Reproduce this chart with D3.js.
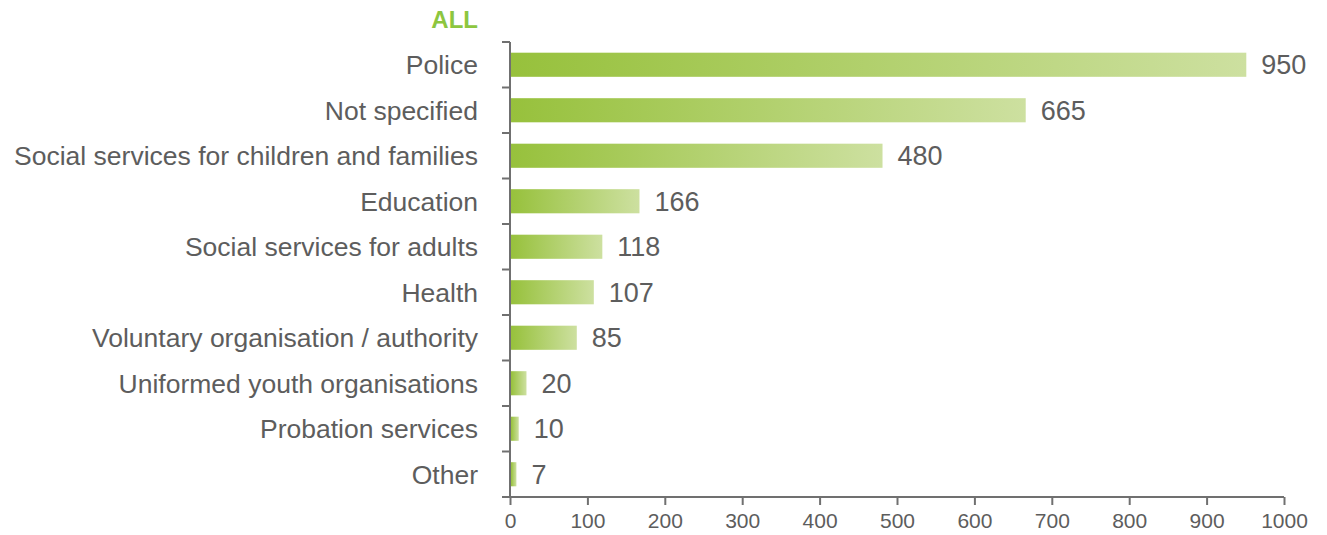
<!DOCTYPE html>
<html>
<head>
<meta charset="utf-8">
<script src="https://cdn.jsdelivr.net/npm/d3@7"></script>
<style>
  html, body { margin: 0; padding: 0; background: #fff; }
  svg { display: block; }
  text { font-family: "Liberation Sans", Arial, sans-serif; }
</style>
</head>
<body>
<svg id="chart" width="1327" height="535"></svg>
<script>
const categories = [
  "Police",
  "Not specified",
  "Social services for children and families",
  "Education",
  "Social services for adults",
  "Health",
  "Voluntary organisation / authority",
  "Uniformed youth organisations",
  "Probation services",
  "Other"
];
const values = [950, 665, 480, 166, 118, 107, 85, 20, 10, 7];
const xTicks = [0, 100, 200, 300, 400, 500, 600, 700, 800, 900, 1000];
const title = "ALL";

const svg = d3.select("#chart");
const margin = { left: 510, right: 43, top: 42, bottom: 38 };
const W = 1327, H = 535;
const textColor = "#5d5d5d";
const axisColor = "#707070";

const x = d3.scaleLinear().domain([0, 1000]).range([margin.left, W - margin.right]);
const y = d3.scaleBand().domain(categories).range([margin.top, H - margin.bottom]).paddingInner(0.47).paddingOuter(0.235);

const defs = svg.append("defs");
const grad = defs.append("linearGradient").attr("id", "barGrad")
  .attr("x1", "0%").attr("x2", "100%").attr("y1", "0%").attr("y2", "0%");
grad.append("stop").attr("offset", "0%").attr("stop-color", "#97c13c");
grad.append("stop").attr("offset", "100%").attr("stop-color", "#cde0a0");

const data = categories.map((c, i) => ({ c, v: values[i] }));

// bars
svg.append("g").selectAll("rect").data(data).join("rect")
  .attr("x", x(0) + 1)
  .attr("y", d => y(d.c))
  .attr("width", d => Math.max(0, x(d.v) - x(0)))
  .attr("height", y.bandwidth())
  .attr("fill", "url(#barGrad)");

// value labels
svg.append("g").selectAll("text").data(data).join("text")
  .attr("x", d => x(d.v) + 16)
  .attr("y", d => y(d.c) + y.bandwidth() / 2)
  .attr("dy", "0.36em")
  .attr("font-size", 27)
  .attr("fill", textColor)
  .text(d => d.v);

// category labels
svg.append("g").selectAll("text").data(data).join("text")
  .attr("x", margin.left - 32)
  .attr("y", d => y(d.c) + y.bandwidth() / 2)
  .attr("dy", "0.36em")
  .attr("text-anchor", "end")
  .attr("font-size", 26.5)
  .attr("fill", textColor)
  .text(d => d.c);

// y axis line with boundary ticks
const step = y.step();
const boundaries = d3.range(categories.length + 1).map(i => margin.top + i * step);
const yAxisG = svg.append("g");
yAxisG.append("line")
  .attr("x1", x(0)).attr("x2", x(0))
  .attr("y1", boundaries[0]).attr("y2", boundaries[boundaries.length - 1])
  .attr("stroke", axisColor).attr("stroke-width", 2);
yAxisG.selectAll("line.tick").data(boundaries).join("line").attr("class", "tick")
  .attr("x1", x(0) - 8).attr("x2", x(0))
  .attr("y1", d => d).attr("y2", d => d)
  .attr("stroke", axisColor).attr("stroke-width", 2);

// x axis
const xAxis = d3.axisBottom(x).tickValues(xTicks).tickFormat(d3.format("d"))
  .tickSize(8).tickSizeOuter(0).tickPadding(8);
const gx = svg.append("g")
  .attr("transform", `translate(0,${boundaries[boundaries.length - 1]})`)
  .call(xAxis);
gx.select(".domain").attr("stroke", axisColor).attr("stroke-width", 2)
  .attr("d", `M${x(0) - 8},0H${x(1000)}`);
gx.selectAll(".tick line").attr("stroke", axisColor).attr("stroke-width", 2);
gx.selectAll(".tick text").attr("font-size", 21).attr("fill", textColor)
  .attr("font-family", "'Liberation Sans', Arial, sans-serif");

// title
svg.append("text")
  .attr("x", margin.left - 32)
  .attr("y", 28)
  .attr("text-anchor", "end")
  .attr("font-size", 24)
  .attr("font-weight", "bold")
  .attr("fill", "#8dc63f")
  .text(title);
</script>
</body>
</html>
